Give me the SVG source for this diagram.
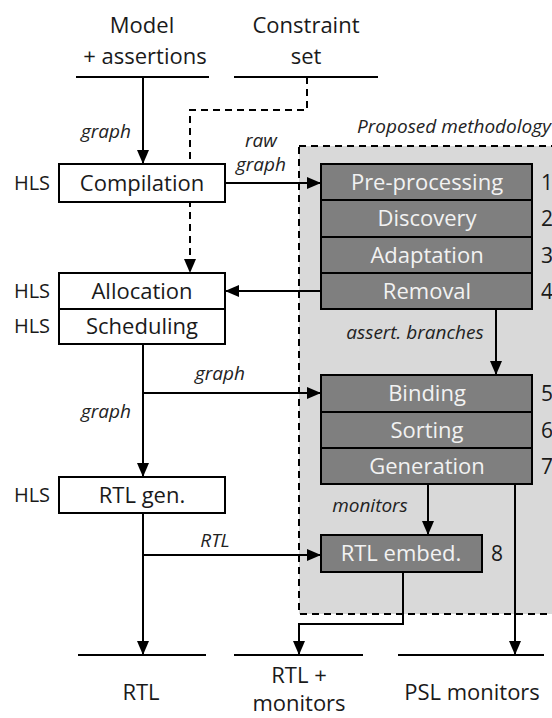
<svg xmlns="http://www.w3.org/2000/svg" width="552" height="718" viewBox="0 0 552 718">
<defs>
<marker id="ah" viewBox="0 0 14 12" refX="14" refY="6" markerWidth="14" markerHeight="12" markerUnits="userSpaceOnUse" orient="auto">
<path d="M0,0 L14,6 L0,12 Z" fill="#000"/>
</marker>
<style>
text{font-family:"Open Sans","Noto Sans",sans-serif;}
.t{font-size:22px;fill:#1a1a1a;text-anchor:middle;}
.h{font-size:20px;fill:#1a1a1a;text-anchor:middle;}
.l{font-size:19px;font-style:italic;fill:#222;text-anchor:middle;}
.w{font-size:22px;fill:#f2f2f2;text-anchor:middle;}
.n{font-size:21px;fill:#1a1a1a;}
.box{fill:#fff;stroke:#000;stroke-width:2;}
.dbox{fill:#7f7f7f;stroke:#000;stroke-width:2;}
.c{fill:none;stroke:#000;stroke-width:2;}
.base{stroke:#000;stroke-width:2;}
</style>
</defs>
<rect id="region" x="299" y="146" width="262" height="468" fill="#d9d9d9" stroke="#000" stroke-width="2" stroke-dasharray="7,5"/>
<text class="l" x="357" y="133" style="text-anchor:start">Proposed methodology</text>
<g id="inputs">
<text class="t" x="142" y="33">Model</text>
<text class="t" x="145" y="64">+ assertions</text>
<line class="base" x1="76" y1="77" x2="209" y2="77"/>
<text class="t" x="306" y="33">Constraint</text>
<text class="t" x="306" y="64">set</text>
<line class="base" x1="234" y1="77" x2="378" y2="77"/>
</g>
<g id="outputs">
<line class="base" x1="78" y1="655" x2="206" y2="655"/>
<line class="base" x1="234" y1="655" x2="363" y2="655"/>
<line class="base" x1="398" y1="655" x2="544" y2="655"/>
<text class="t" x="141" y="700">RTL</text>
<text class="t" x="299" y="683">RTL +</text>
<text class="t" x="299" y="711">monitors</text>
<text class="t" x="472" y="700">PSL monitors</text>
</g>
<g id="connectors">
<path class="c" d="M143,77 V164" marker-end="url(#ah)"/>
<path class="c" d="M307,77 V110 H190 V273" stroke-dasharray="7,5" marker-end="url(#ah)"/>
<path class="c" d="M225,183 H321" marker-end="url(#ah)"/>
<path class="c" d="M321,291 H225" marker-end="url(#ah)"/>
<path class="c" d="M496,309 V375" marker-end="url(#ah)"/>
<path class="c" d="M143,344 V477" marker-end="url(#ah)"/>
<path class="c" d="M143,393 H321" marker-end="url(#ah)"/>
<path class="c" d="M143,513 V655" marker-end="url(#ah)"/>
<path class="c" d="M143,555 H321" marker-end="url(#ah)"/>
<path class="c" d="M428,484 V535" marker-end="url(#ah)"/>
<path class="c" d="M403,572 V624 H299 V655" stroke="#444" marker-end="url(#ah)"/>
<path class="c" d="M515,484 V655" marker-end="url(#ah)"/>
<text class="l" x="106" y="138">graph</text>
<text class="l" x="261" y="147">raw</text>
<text class="l" x="261" y="171">graph</text>
<text class="l" x="415" y="339">assert. branches</text>
<text class="l" x="220" y="380">graph</text>
<text class="l" x="106" y="418">graph</text>
<text class="l" x="215" y="547">RTL</text>
<text class="l" x="370" y="512">monitors</text>
</g>
<g id="compilation">
<text class="h" x="32" y="190">HLS</text>
<rect class="box" x="59" y="164" width="166" height="38"/>
<text class="t" x="142" y="191">Compilation</text>
</g>
<g id="allocation">
<text class="h" x="32" y="298">HLS</text>
<rect class="box" x="59" y="273" width="166" height="36"/>
<text class="t" x="142" y="299">Allocation</text>
</g>
<g id="scheduling">
<text class="h" x="32" y="333">HLS</text>
<rect class="box" x="59" y="309" width="166" height="35"/>
<text class="t" x="142" y="334">Scheduling</text>
</g>
<g id="rtlgen">
<text class="h" x="32" y="502">HLS</text>
<rect class="box" x="59" y="477" width="166" height="36"/>
<text class="t" x="142" y="503">RTL gen.</text>
</g>
<g id="preprocessing">
<rect class="dbox" x="321" y="164" width="211" height="36"/>
<text class="w" x="427" y="190">Pre-processing</text>
<text class="n" x="541" y="190">1</text>
</g>
<g id="discovery">
<rect class="dbox" x="321" y="200" width="211" height="37"/>
<text class="w" x="427" y="226">Discovery</text>
<text class="n" x="541" y="226">2</text>
</g>
<g id="adaptation">
<rect class="dbox" x="321" y="237" width="211" height="36"/>
<text class="w" x="427" y="263">Adaptation</text>
<text class="n" x="541" y="263">3</text>
</g>
<g id="removal">
<rect class="dbox" x="321" y="273" width="211" height="36"/>
<text class="w" x="427" y="299">Removal</text>
<text class="n" x="541" y="299">4</text>
</g>
<g id="binding">
<rect class="dbox" x="321" y="375" width="211" height="37"/>
<text class="w" x="427" y="401">Binding</text>
<text class="n" x="541" y="401">5</text>
</g>
<g id="sorting">
<rect class="dbox" x="321" y="412" width="211" height="36"/>
<text class="w" x="427" y="438">Sorting</text>
<text class="n" x="541" y="438">6</text>
</g>
<g id="generation">
<rect class="dbox" x="321" y="448" width="211" height="36"/>
<text class="w" x="427" y="474">Generation</text>
<text class="n" x="541" y="474">7</text>
</g>
<g id="rtlembed">
<rect class="dbox" x="321" y="535" width="161" height="37"/>
<text class="w" x="401" y="561">RTL embed.</text>
<text class="n" x="491" y="561">8</text>
</g>
</svg>
